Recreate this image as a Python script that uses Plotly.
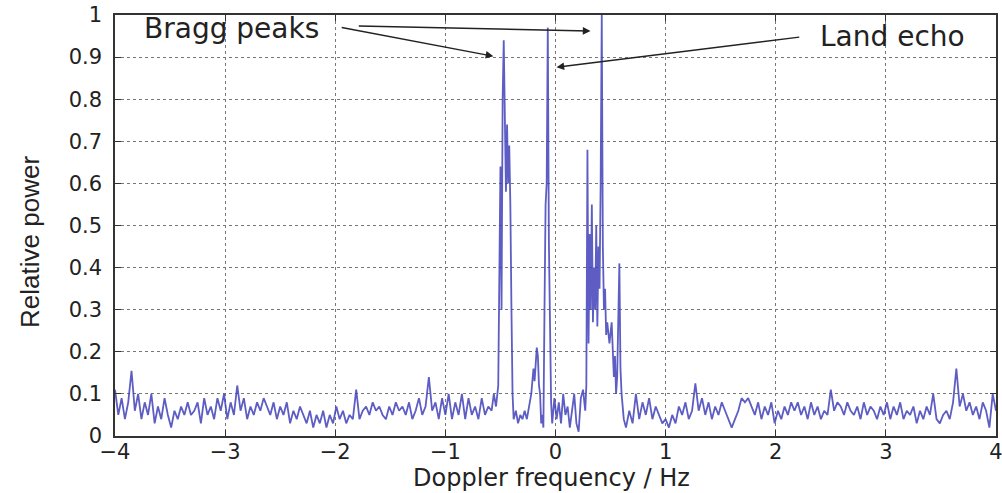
import numpy as np
import plotly.graph_objects as go

# ---- data ----
# noise floor, negative side (uniform bins starting at -4.00 Hz, 0.03 Hz apart)
left_start, left_step = -4.0, 0.03
left_power = [
    0.11, 0.05, 0.09, 0.04, 0.08, 0.155, 0.06, 0.10, 0.04, 0.08,
    0.05, 0.10, 0.03, 0.07, 0.04, 0.09, 0.05, 0.02, 0.06, 0.04,
    0.07, 0.05, 0.08, 0.05, 0.06, 0.08, 0.03, 0.09, 0.05, 0.07,
    0.04, 0.09, 0.06, 0.10, 0.04, 0.08, 0.05, 0.12, 0.06, 0.09,
    0.04, 0.07, 0.05, 0.08, 0.06, 0.09, 0.07, 0.05, 0.08, 0.04,
    0.07, 0.05, 0.08, 0.03, 0.06, 0.04, 0.07, 0.05, 0.03, 0.06,
    0.02, 0.05, 0.03, 0.06, 0.02, 0.05, 0.03, 0.07, 0.04, 0.06,
    0.03, 0.05, 0.04, 0.11, 0.04, 0.06, 0.07, 0.05, 0.08, 0.06,
    0.07, 0.05, 0.04, 0.07, 0.05, 0.08, 0.06, 0.07, 0.05, 0.08,
    0.04, 0.06, 0.09, 0.05, 0.07, 0.14, 0.06, 0.08, 0.04, 0.09,
    0.05, 0.10, 0.04, 0.08, 0.05, 0.10, 0.04, 0.09, 0.05, 0.07,
    0.04, 0.09, 0.05, 0.07,
]

# Bragg / land-echo region (explicit bins)
mid_freq = [
    -0.58, -0.56, -0.54, -0.52, -0.51, -0.50, -0.49, -0.48, -0.47, -0.46,
    -0.45, -0.44, -0.43, -0.42, -0.41, -0.40, -0.39, -0.38, -0.36, -0.34,
    -0.32, -0.30, -0.28, -0.26, -0.24, -0.22, -0.20, -0.19, -0.18, -0.17,
    -0.16, -0.15, -0.14, -0.13, -0.12, -0.11, -0.10, -0.09, -0.08, -0.07,
    -0.06, -0.05, -0.04, -0.03, -0.01, 0.01, 0.03, 0.05, 0.07, 0.09,
    0.11, 0.13, 0.15, 0.17, 0.19, 0.21, 0.23, 0.25, 0.27, 0.28,
    0.29, 0.30, 0.31, 0.32, 0.33, 0.34, 0.35, 0.36, 0.37, 0.38,
    0.39, 0.40, 0.41, 0.42, 0.43, 0.44, 0.45, 0.46, 0.47, 0.49,
    0.51, 0.52, 0.53, 0.54, 0.55, 0.56, 0.57, 0.58, 0.59, 0.60,
    0.62, 0.64,
]
mid_power = [
    0.06, 0.10, 0.07, 0.12, 0.40, 0.64, 0.30, 0.80, 0.94, 0.72,
    0.58, 0.74, 0.60, 0.69, 0.55, 0.30, 0.10, 0.04, 0.06, 0.03,
    0.05, 0.04, 0.06, 0.04, 0.07, 0.10, 0.16, 0.13, 0.17, 0.21,
    0.19, 0.12, 0.10, 0.03, 0.05, 0.02, 0.30, 0.55, 0.60, 0.97,
    0.46, 0.20, 0.08, 0.03, 0.09, 0.04, 0.08, 0.03, 0.10, 0.05,
    0.07, 0.02, 0.06, 0.10, 0.03, 0.01, 0.09, 0.11, 0.06, 0.12,
    0.68, 0.22, 0.48, 0.30, 0.55, 0.27, 0.40, 0.30, 0.50, 0.26,
    0.45, 0.35, 0.60, 1.00, 0.45, 0.30, 0.35, 0.24, 0.27, 0.22,
    0.27, 0.20, 0.14, 0.19, 0.10, 0.14, 0.25, 0.41, 0.16, 0.10,
    0.04, 0.02,
]

# noise floor, positive side (uniform bins starting at 0.67 Hz, 0.03 Hz apart)
right_start, right_step = 0.67, 0.03
right_power = [
    0.06, 0.03, 0.10, 0.04, 0.08, 0.05, 0.09, 0.04, 0.07, 0.05,
    0.03, 0.04, 0.02, 0.05, 0.03, 0.07, 0.05, 0.08, 0.04, 0.06,
    0.125, 0.06, 0.09, 0.05, 0.08, 0.04, 0.07, 0.05, 0.08, 0.06,
    0.04, 0.02, 0.04, 0.06, 0.09, 0.08, 0.09, 0.07, 0.05, 0.08,
    0.04, 0.07, 0.05, 0.08, 0.03, 0.06, 0.04, 0.07, 0.05, 0.08,
    0.06, 0.08, 0.05, 0.07, 0.04, 0.08, 0.05, 0.07, 0.04, 0.06,
    0.05, 0.11, 0.06, 0.08, 0.07, 0.05, 0.08, 0.06, 0.05, 0.07,
    0.04, 0.08, 0.05, 0.07, 0.06, 0.04, 0.07, 0.05, 0.08, 0.04,
    0.07, 0.05, 0.08, 0.04, 0.06, 0.05, 0.07, 0.03, 0.06, 0.04,
    0.07, 0.05, 0.10, 0.04, 0.03, 0.05, 0.06, 0.04, 0.08, 0.16,
    0.07, 0.10, 0.06, 0.08, 0.05, 0.07, 0.04, 0.08, 0.06, 0.02,
    0.10, 0.06,
]

x_ticks = [-4, -3, -2, -1, 0, 1, 2, 3, 4]
y_ticks = [0, 0.1, 0.2, 0.3, 0.4, 0.5, 0.6, 0.7, 0.8, 0.9, 1]
y_tick_text = ["0", "0.1", "0.2", "0.3", "0.4", "0.5", "0.6", "0.7", "0.8", "0.9", "1"]

# ---- assemble the spectrum ----
left_freq = list(np.round(left_start + left_step * np.arange(len(left_power)), 3))
right_freq = list(np.round(right_start + right_step * np.arange(len(right_power)), 3))
freq = left_freq + mid_freq + right_freq
power = left_power + mid_power + right_power

fig = go.Figure()
fig.add_trace(go.Scatter(
    x=freq, y=power, mode="lines",
    line=dict(color="rgba(65,65,185,0.85)", width=1.8),
    showlegend=False, hoverinfo="x+y",
))

ann_font = dict(family="DejaVu Sans", size=28, color="#222222")
arrow_style = dict(showarrow=True, arrowhead=2, arrowsize=1.1, arrowwidth=1.4,
                   arrowcolor="#222222", axref="x", ayref="y", text="",
                   standoff=0, startstandoff=0)

axis_common = dict(
    ticks="inside", ticklen=6, tickcolor="#333",
    showline=True, mirror="ticks", linecolor="#333", linewidth=1.5,
    showgrid=True, gridcolor="#777", griddash="dot", gridwidth=1,
    zeroline=False, automargin=False, ticklabeloverflow="allow",
    tickfont=dict(family="DejaVu Sans", size=21, color="#222"),
)

fig.update_layout(
    width=1002, height=493,
    margin=dict(l=115, r=6, t=15, b=57),
    paper_bgcolor="white", plot_bgcolor="white",
    xaxis=dict(range=[-4, 4], tickvals=x_ticks, ticklabelstandoff=-4, **axis_common),
    yaxis=dict(range=[0, 1], tickvals=y_ticks, ticktext=y_tick_text,
               ticklabelstandoff=7, **axis_common),
    annotations=[
        dict(x=-2.945, y=0.967, xref="x", yref="y", text="Bragg peaks",
             showarrow=False, font=ann_font),
        dict(x=3.064, y=0.948, xref="x", yref="y", text="Land echo",
             showarrow=False, font=ann_font),
        dict(x=-0.564, y=0.902, ax=-1.955, ay=0.971, **arrow_style),
        dict(x=0.318, y=0.962, ax=-1.80, ay=0.974, **arrow_style),
        dict(x=0.009, y=0.876, ax=2.227, ay=0.948, **arrow_style),
        dict(x=0.496, y=-0.100, xref="paper", yref="paper",
             text="Doppler frequency / Hz", showarrow=False,
             font=dict(family="DejaVu Sans", size=24, color="#222"),
             xanchor="center", yanchor="middle"),
        dict(x=-0.0965, y=0.461, xref="paper", yref="paper",
             text="Relative power", showarrow=False, textangle=-90,
             font=dict(family="Liberation Sans", size=26, color="#222"),
             xanchor="center", yanchor="middle"),
    ],
)

fig.write_html("out.html", config={"displayModeBar": False},
               post_script="document.body.style.margin='0';")
